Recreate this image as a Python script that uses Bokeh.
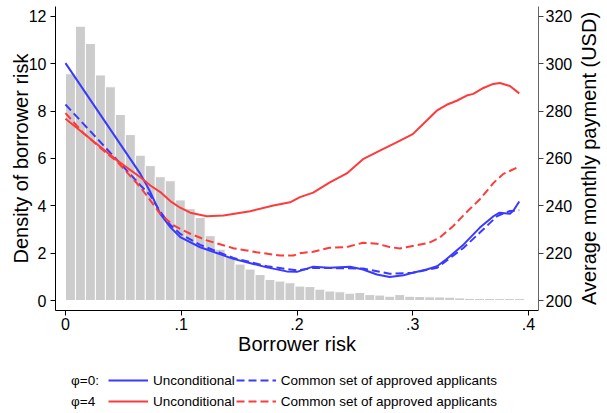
import numpy as np
from bokeh.plotting import figure
from bokeh.layouts import column, row
from bokeh.models import Range1d, LinearAxis, FixedTicker, Legend, LegendItem, ColumnDataSource, Title
from bokeh.embed import file_html
from bokeh.resources import INLINE

# ---------------- data ----------------
bin_width = 0.00862
density = [9.58, 11.59, 10.86, 9.53, 9.03, 7.86, 7.01, 6.14, 5.70, 5.23,
           5.06, 4.25, 3.88, 3.51, 2.74, 2.17, 1.85, 1.54, 1.33, 1.10,
           0.89, 0.82, 0.75, 0.61, 0.59, 0.48, 0.40, 0.37, 0.31, 0.34,
           0.25, 0.23, 0.18, 0.25, 0.18, 0.17, 0.155, 0.15, 0.14, 0.11,
           0.09, 0.085, 0.085, 0.08, 0.08, 0.08]

# phi = 0, unconditional
risk_u0 = [0, 0.0647, 0.0733, 0.0819, 0.0905, 0.0991, 0.1164, 0.145, 0.174, 0.191,
           0.2, 0.214, 0.228, 0.246, 0.257, 0.269, 0.28, 0.292, 0.3, 0.312,
           0.321, 0.329, 0.344, 0.358, 0.37, 0.375, 0.384, 0.387, 0.392]
pay_u0 = [300.3, 253.5, 245.8, 236.6, 231.0, 226.8, 222.5, 217.6, 214.0, 212.3,
          212.1, 214.3, 213.8, 214.3, 213.1, 211.0, 209.9, 210.7, 211.7, 213.1,
          214.5, 217.4, 223.7, 230.8, 235.7, 237.1, 236.7, 238.0, 241.8]

# phi = 0, common set of approved applicants
risk_c0 = [0, 0.0445, 0.0647, 0.0733, 0.0819, 0.0905, 0.0991, 0.1164, 0.145, 0.174,
           0.2, 0.214, 0.243, 0.257, 0.28, 0.3, 0.321, 0.344, 0.358, 0.373,
           0.384, 0.392]
pay_c0 = [282.8, 259.4, 248.7, 244.4, 237.5, 232.0, 228.2, 223.5, 218.0, 214.5,
          212.7, 213.8, 213.6, 213.5, 211.3, 211.7, 213.8, 222.3, 228.7, 235.7,
          237.8, 238.1]

# phi = 4, unconditional
risk_u4 = [0, 0.03, 0.0445, 0.0647, 0.0733, 0.0819, 0.0905, 0.0991, 0.1078, 0.1221,
           0.1365, 0.1595, 0.1796, 0.194, 0.2026, 0.214, 0.228, 0.243, 0.257, 0.2716,
           0.286, 0.3, 0.309, 0.3207, 0.3293, 0.338, 0.3466, 0.3523, 0.361, 0.3695,
           0.3753, 0.3839, 0.392]
pay_u4 = [276.8, 265.0, 259.2, 252.1, 248.6, 245.8, 242.0, 239.2, 237.1, 235.6,
          235.9, 237.7, 240.1, 241.5, 243.7, 245.6, 249.8, 253.7, 259.7, 263.3,
          266.8, 270.3, 274.6, 280.2, 282.7, 284.4, 286.6, 287.3, 289.8, 291.5,
          291.9, 290.6, 287.5]

# phi = 4, common set of approved applicants
risk_c4 = [0, 0.015, 0.03, 0.045, 0.0647, 0.0819, 0.0934, 0.1078, 0.1221, 0.145,
           0.165, 0.1854, 0.1969, 0.2026, 0.214, 0.228, 0.243, 0.257, 0.269, 0.28,
           0.289, 0.3, 0.314, 0.323, 0.335, 0.346, 0.358, 0.37, 0.378, 0.392]
pay_c4 = [279.2, 271.0, 264.5, 258.5, 247.9, 236.6, 231.7, 228.2, 225.4, 222.1,
          220.4, 219.0, 219.0, 220.0, 220.6, 222.3, 222.6, 224.4, 224.0, 222.6,
          222.0, 223.0, 224.4, 226.5, 231.5, 237.1, 242.8, 249.8, 253.4, 256.6]

x_ticks = [0, 0.1, 0.2, 0.3, 0.4]
x_tick_labels = ["0", ".1", ".2", ".3", ".4"]
density_ticks = [0, 2, 4, 6, 8, 10, 12]
pay_ticks = [200, 220, 240, 260, 280, 300, 320]

row_labels = ["\u03c6=0:", "\u03c6=4"]
series_labels = ["Unconditional", "Common set of approved applicants"]
right_axis_title = "Average monthly payment (USD)"

# ---------------- style ----------------
FONT = "Liberation Sans"
BLUE = "#3a3aff"
RED = "#ff3a3a"
BAR = "#cccccc"
DASH = "8 4"

p = figure(width=575, height=360, output_backend="svg", toolbar_location=None,
           x_range=Range1d(-0.00862, 0.40862), y_range=Range1d(-0.4225, 12.422),
           min_border_left=55, min_border_right=36, min_border_top=6, min_border_bottom=50)
p.extra_y_ranges = {"pay": Range1d(195.775, 324.22)}
p.outline_line_color = None
p.grid.visible = False
p.background_fill_color = "white"
p.border_fill_color = "white"

centers = (np.arange(len(density)) + 0.5) * bin_width
bars = ColumnDataSource(dict(x=centers, top=density))
p.vbar(x="x", top="top", bottom=0, width=bin_width, source=bars,
       fill_color=BAR, line_color="white", line_width=1)

series = [(risk_u0, pay_u0, BLUE, "solid"), (risk_c0, pay_c0, BLUE, DASH),
          (risk_u4, pay_u4, RED, "solid"), (risk_c4, pay_c4, RED, DASH)]
for xs, ys, col, dash in series:
    p.line(xs, ys, y_range_name="pay", line_color=col, line_width=2,
           line_dash=dash, line_join="round")

# axes
xa = p.xaxis[0]
xa.ticker = FixedTicker(ticks=x_ticks)
xa.major_label_overrides = {t: s for t, s in zip(x_ticks, x_tick_labels)}
xa.axis_label = "Borrower risk"
xa.major_label_standoff = 2
xa.axis_label_standoff = 0

ya = p.yaxis[0]
ya.ticker = FixedTicker(ticks=density_ticks)
ya.axis_label = "Density of borrower risk"
ya.major_label_standoff = 4
ya.axis_label_standoff = -6

ra = LinearAxis(y_range_name="pay", ticker=FixedTicker(ticks=pay_ticks))
ra.major_label_standoff = 2
p.add_layout(ra, "right")

for ax in [xa, ya, ra]:
    ax.minor_tick_line_color = None
    ax.major_tick_out = 5
    ax.major_tick_in = 0
    ax.major_label_text_font = FONT
    ax.major_label_text_font_size = "16px"
    ax.major_label_text_color = "black"
    ax.axis_label_text_font = FONT
    ax.axis_label_text_font_size = "20px"
    ax.axis_label_text_font_style = "normal"
    ax.axis_label_text_color = "black"
    ax.axis_line_color = "black"
    ax.major_tick_line_color = "black"
ra.axis_line_color = "#666666"
ra.major_tick_line_color = "#444444"

# ---------------- right-axis title strip (reads bottom to top) ----------------
r = figure(width=32, height=360, output_backend="svg", toolbar_location=None,
           x_range=Range1d(0, 1), y_range=Range1d(0, 1),
           x_axis_type=None, y_axis_type=None,
           min_border_left=0, min_border_right=0, min_border_top=6, min_border_bottom=50)
r.outline_line_color = None
r.background_fill_color = "white"
r.border_fill_color = "white"
r.add_layout(Title(text=right_axis_title, align="center", text_font=FONT,
                   text_font_size="20px", text_font_style="normal",
                   text_color="black", standoff=0, offset=0), "left")

# ---------------- legend strip ----------------
# its ranges lie outside the data, so only the legend shows
q = figure(width=607, height=53, output_backend="svg", toolbar_location=None,
           x_range=Range1d(-2, -1), y_range=Range1d(-2, -1),
           x_axis_type=None, y_axis_type=None,
           min_border_left=55, min_border_right=68, min_border_top=0, min_border_bottom=0)
q.outline_line_color = None
q.background_fill_color = "white"
q.border_fill_color = "white"

k_blank = q.line(risk_u0, pay_u0, line_alpha=0)
keys = [q.line(xs, ys, line_color=col, line_width=2, line_dash=dash)
        for xs, ys, col, dash in series]

legend = Legend(items=[
    LegendItem(label=row_labels[0], renderers=[k_blank]),
    LegendItem(label=series_labels[0], renderers=[keys[0]]),
    LegendItem(label=series_labels[1], renderers=[keys[1]]),
    LegendItem(label=row_labels[1], renderers=[k_blank]),
    LegendItem(label=series_labels[0], renderers=[keys[2]]),
    LegendItem(label=series_labels[1], renderers=[keys[3]]),
], location=(-29, 2), orientation="horizontal", ncols=3)
legend.margin = 0
legend.padding = 0
legend.spacing = 1
legend.glyph_width = 40
legend.glyph_height = 20
legend.label_height = 20
legend.label_width = 36
legend.label_standoff = 5
legend.label_text_font = FONT
legend.label_text_font_size = "13.5px"
legend.label_text_color = "black"
legend.border_line_alpha = 0
legend.background_fill_alpha = 0
q.add_layout(legend)

layout = column(row(p, r, spacing=0), q, spacing=0)
open("out.html", "w").write(file_html(layout, INLINE))
